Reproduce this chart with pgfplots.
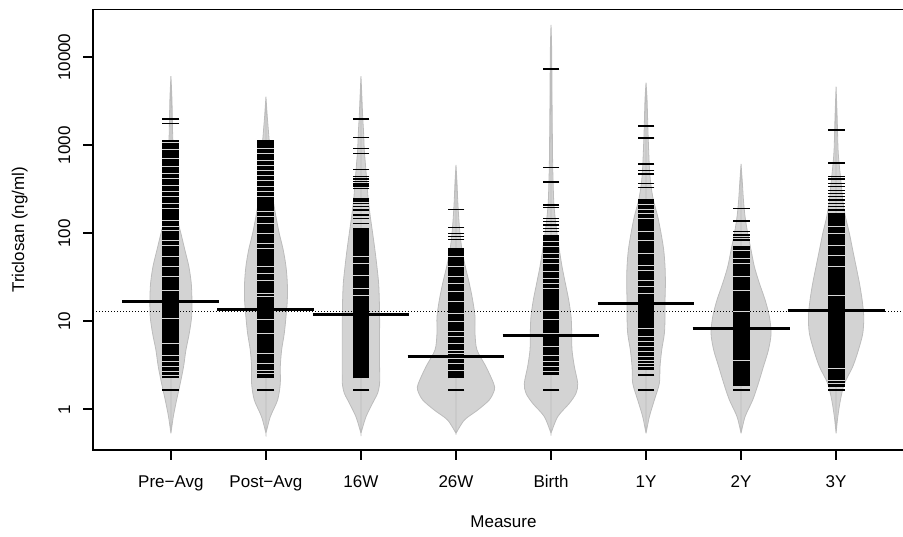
\documentclass[border=0pt]{standalone}
\usepackage{fontspec}
\setmainfont{Liberation Sans}
\usepackage{pgfplots}
\usepackage{pgfplotstable}
\pgfplotsset{compat=1.18}
\usepgfplotslibrary{fillbetween}

\definecolor{beanfill}{RGB}{211,211,211}
\definecolor{beanedge}{RGB}{188,188,188}
\definecolor{gapcol}{RGB}{215,215,215}
\newcommand{\lbl}{\fontsize{17}{20}\selectfont}

% bean outlines: value (ng/ml), half width in x units
\pgfplotstableread{
y w
6120 0
3270 0.011
1370 0.018
885 0.025
370 0.035
155 0.063
99.8 0.105
64.6 0.147
41.8 0.189
27.0 0.214
17.5 0.221
11.3 0.218
7.30 0.193
4.72 0.158
3.05 0.133
1.97 0.098
1.28 0.060
0.824 0.025
0.533 0
}\beanA
\pgfplotstableread{
y w
3570 0
2120 0.014
1370 0.028
885 0.042
572 0.049
370 0.063
239 0.077
155 0.105
99.8 0.140
64.6 0.182
41.8 0.211
27.0 0.225
17.5 0.225
11.3 0.211
7.30 0.193
4.72 0.165
3.05 0.151
1.97 0.151
1.28 0.123
0.824 0.046
0.533 0
}\beanB
\pgfplotstableread{
y w
6120 0
3270 0.011
2120 0.018
1370 0.028
885 0.035
572 0.049
370 0.063
239 0.077
155 0.098
99.8 0.123
64.6 0.147
41.8 0.168
27.0 0.186
17.5 0.193
11.3 0.196
7.30 0.196
4.72 0.196
3.05 0.196
1.97 0.196
1.52 0.175
1.28 0.140
0.824 0.053
0.533 0
}\beanC
\pgfplotstableread{
y w
597 0
370 0.011
239 0.018
155 0.028
99.8 0.042
64.6 0.063
41.8 0.098
27.0 0.140
17.5 0.175
11.3 0.200
7.30 0.200
4.72 0.221
3.05 0.316
1.97 0.396
1.66 0.404
1.28 0.351
0.98 0.228
0.755 0.088
0.533 0
}\beanD
\pgfplotstableread{
y w
23280 0
12100 0.007
3270 0.011
1370 0.014
572 0.018
239 0.028
155 0.042
99.8 0.063
64.6 0.088
41.8 0.116
27.0 0.151
17.5 0.186
11.3 0.211
7.30 0.218
4.72 0.221
3.05 0.246
1.97 0.281
1.52 0.263
1.17 0.193
0.824 0.070
0.533 0
}\beanE
\pgfplotstableread{
y w
5150 0
3270 0.011
1370 0.021
572 0.035
370 0.049
239 0.077
155 0.123
99.8 0.158
64.6 0.186
41.8 0.200
27.0 0.204
17.5 0.200
11.3 0.200
7.30 0.193
4.72 0.165
3.05 0.147
1.97 0.140
1.28 0.088
0.824 0.035
0.533 0
}\beanF
\pgfplotstableread{
y w
614 0
370 0.014
239 0.025
155 0.042
99.8 0.070
64.6 0.105
41.8 0.140
27.0 0.193
17.5 0.253
11.3 0.298
7.30 0.316
4.72 0.288
3.05 0.235
1.97 0.182
1.28 0.123
0.824 0.042
0.533 0
}\beanG
\pgfplotstableread{
y w
4640 0
2120 0.011
885 0.021
572 0.035
370 0.053
239 0.070
155 0.098
99.8 0.140
64.6 0.175
41.8 0.211
27.0 0.246
17.5 0.274
11.3 0.291
7.30 0.281
4.72 0.235
3.05 0.175
1.97 0.088
1.28 0.046
0.824 0.018
0.533 0
}\beanH

\newcommand{\bean}[2]{%
  \addplot[draw=none, smooth, name path=r#1] table[x expr=#1+\thisrow{w}, y=y] {#2};
  \addplot[draw=none, smooth, name path=l#1] table[x expr=#1-\thisrow{w}, y=y] {#2};
  \addplot[fill=beanfill, draw=beanedge, line width=0.8pt] fill between[of=r#1 and l#1];
}

\begin{document}
\begin{tikzpicture}
\begin{axis}[
  at={(93pt,86pt)}, anchor=south west,
  scale only axis, width=821pt, height=440.5pt,
  xmin=0.18, xmax=8.82,
  ymode=log, ymin=0.345, ymax=34900,
  xtick={1,2,3,4,5,6,7,8},
  xticklabels={Pre−Avg, Post−Avg, 16W, 26W, Birth, 1Y, 2Y, 3Y},
  ytick={1,10,100,1000,10000},
  yticklabels={1,10,100,1000,10000},
  yminorticks=false,
  tick align=outside, tick pos=left,
  major tick length=10pt,
  axis line style={line width=1.9pt},
  every tick/.style={black, line width=1.9pt},
  tick label style={font=\lbl},
  yticklabel style={xshift=-13pt, rotate=90, anchor=base},
  xticklabel style={anchor=base, yshift=-28pt},
  every axis y label/.style={at={(axis description cs:-0.084,0.5)}, rotate=90, anchor=base, font=\lbl},
  every axis x label/.style={at={(axis description cs:0.5,-0.177)}, anchor=base, font=\lbl},
  xlabel={Measure},
  ylabel={Triclosan (ng/ml)},
]
% overall line
\addplot[black, line width=0.9pt, dash pattern=on 0.9pt off 2.1pt] coordinates {(0.18,12.9) (8.82,12.9)};

\bean{1}{\beanA}
\bean{2}{\beanB}
\bean{3}{\beanC}
\bean{4}{\beanD}
\bean{5}{\beanE}
\bean{6}{\beanF}
\bean{7}{\beanG}
\bean{8}{\beanH}

% dense runs of bean lines
\addplot[black, line width=16.9pt] coordinates {(1,2.25) (1,1150)};
\addplot[black, line width=16.9pt] coordinates {(2,2.25) (2,1150)};
\addplot[black, line width=16.9pt] coordinates {(3,2.25) (3,114)};
\addplot[black, line width=16.9pt] coordinates {(4,2.25) (4,67.5)};
\addplot[black, line width=16.9pt] coordinates {(5,2.45) (5,95.6)};
\addplot[black, line width=16.9pt] coordinates {(6,2.80) (6,245)};
\addplot[black, line width=16.9pt] coordinates {(7,1.84) (7,72.3)};
\addplot[black, line width=16.9pt] coordinates {(8,1.81) (8,169)};

% gaps between bean lines
\addplot[only marks, color=gapcol, mark=-, mark size=8.45pt, mark options={line width=0.7pt}] coordinates {
(1,1070) (1,908) (1,711) (1,572) (1,480) (1,422) (1,354) (1,297) (1,261) (1,219) (1,192) (1,142) (1,119) (1,109) (1,83.9) (1,73.6) (1,54.2) (1,41.8) (1,32.1) (1,22.7) (1,10.8) (1,5.62) (1,4.14) (1,3.48) (1,3.05) (1,2.68) (1,2.45)
(2,925) (2,811) (2,681) (2,597) (2,524) (2,460) (2,404) (2,339) (2,297) (2,261) (2,176) (2,155) (2,130) (2,99.8) (2,76.9) (2,67.5) (2,41.8) (2,35.1) (2,29.4) (2,20.8) (2,19.1) (2,10.4) (2,7.30) (2,4.33) (2,3.33) (2,2.80) (2,2.56)
(3,54.2) (3,45.6) (3,33.6) (3,23.7) (3,19.9)
(4,54.2) (4,41.8) (4,32.1) (4,27.0) (4,21.7) (4,16.7) (4,12.3) (4,9.92) (4,7.62) (4,6.69) (4,5.62) (4,4.72) (4,4.33) (4,3.79) (4,3.33) (4,2.80)
(5,80.3) (5,70.5) (5,59.2) (5,51.9) (5,45.6) (5,36.6) (5,30.8) (5,27.0) (5,23.7) (5,13.4) (5,10.4) (5,7.30) (5,5.15) (5,4.14) (5,3.48) (5,3.05) (5,2.68)
(6,215) (6,187) (6,169) (6,148) (6,104) (6,83.9) (6,59.2) (6,43.6) (6,38.3) (6,29.4) (6,24.8) (6,20.8) (6,8.32) (6,6.69) (6,5.87) (6,5.15) (6,4.52) (6,3.96) (6,3.63) (6,3.33) (6,3.05)
(7,64.6) (7,51.9) (7,45.6) (7,32.1) (7,22.7) (7,12.9) (7,3.63)
(8,119) (8,99.8) (8,73.6) (8,56.6) (8,41.8) (8,19.9) (8,2.92) (8,2.15) (8,1.97)
};

% single bean lines
\addplot[only marks, black, mark=-, mark size=8.45pt, mark options={line width=1.4pt}] coordinates {
(1,1990) (1,1780) (1,1.66)
(2,1.66)
(3,1990) (3,1233) (3,925) (3,811) (3,534) (3,441) (3,414) (3,386) (3,370) (3,354) (3,339) (3,325) (3,250) (3,239) (3,229) (3,219) (3,201) (3,184) (3,161) (3,148) (3,130) (3,1.66)
(4,186) (4,116) (4,99.8) (4,91.6) (4,85.4) (4,1.66)
(5,7360) (5,562) (5,386) (5,375) (5,210) (5,197) (5,148) (5,136) (5,124) (5,114) (5,104) (5,1.66)
(6,1660) (6,1222) (6,1190) (6,613) (6,515) (6,472) (6,370) (6,330) (6,2.45) (6,1.66)
(7,192) (7,138) (7,104) (7,95.6) (7,90) (7,83.9) (7,1.66)
(8,1490) (8,630) (8,441) (8,414) (8,370) (8,339) (8,305) (8,284) (8,261) (8,239) (8,219) (8,201) (8,184) (8,1.66)
};

% bean averages
\addplot[black, line width=3pt] coordinates {(0.49,17.0) (1.51,17.0)};
\addplot[black, line width=3pt] coordinates {(1.49,13.7) (2.51,13.7)};
\addplot[black, line width=3pt] coordinates {(2.49,12.0) (3.51,12.0)};
\addplot[black, line width=3pt] coordinates {(3.49,3.96) (4.51,3.96)};
\addplot[black, line width=3pt] coordinates {(4.49,6.87) (5.51,6.87)};
\addplot[black, line width=3pt] coordinates {(5.49,16.0) (6.51,16.0)};
\addplot[black, line width=3pt] coordinates {(6.49,8.32) (7.51,8.32)};
\addplot[black, line width=3pt] coordinates {(7.49,13.4) (8.51,13.4)};
\end{axis}
\pgfresetboundingbox
\useasboundingbox (0,0) rectangle (903pt,536pt);
\end{tikzpicture}
\end{document}
